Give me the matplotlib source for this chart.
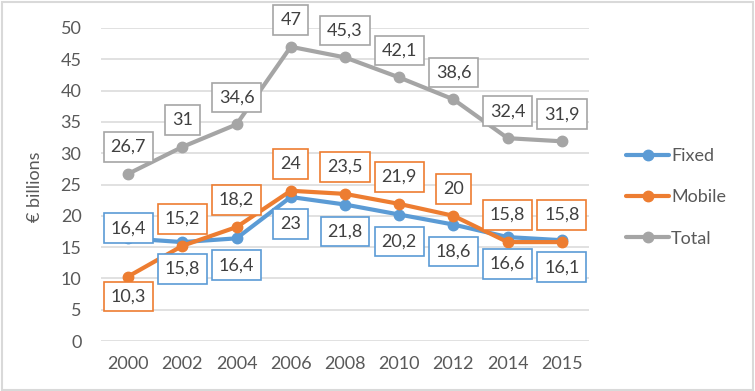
import matplotlib
matplotlib.use("Agg")
import matplotlib.pyplot as plt
from matplotlib.patches import Rectangle

years = ['2000', '2002', '2004', '2006', '2008', '2010', '2012', '2014', '2015']
fixed = [16.4, 15.8, 16.4, 23, 21.8, 20.2, 18.6, 16.6, 16.1]
mobile = [10.3, 15.2, 18.2, 24, 23.5, 21.9, 20, 15.8, 15.8]
total = [26.7, 31, 34.6, 47, 45.3, 42.1, 38.6, 32.4, 31.9]

TEXT = '#595959'
FS = 13
plt.rcParams['font.family'] = ['Lato', 'DejaVu Sans']

fig = plt.figure(figsize=(7.55, 3.91), dpi=100)
ax = fig.add_axes([101 / 755, 1 - 341 / 391, 488 / 755, 313 / 391])

x = list(range(len(years)))
series = [
    ('Fixed', fixed, '#5B9BD5', [-10, 27, 27, 27, 27, 27, 27, 27, 27]),
    ('Mobile', mobile, '#ED7D31', [20, -27, -27, -27, -27, -27, -27, -27, -27]),
    ('Total', total, '#A5A5A5', [-27] * 9),
]

# px offsets -> points (positive = downwards)
for name, vals, col, offs in series:
    ax.plot(x, vals, color=col, lw=3, marker='o', ms=7.5, label=name,
            solid_capstyle='round', zorder=3)
    for xi, v, o in zip(x, vals, offs):
        ax.annotate(f'{v:g}'.replace('.', ','), (xi, v),
                    xytext=(0, -o * 0.72), textcoords='offset points',
                    ha='center', va='center', fontsize=FS, color='#404040',
                    bbox=dict(boxstyle='square,pad=0.38', fc='white',
                              ec=col, lw=1.2),
                    zorder=5, annotation_clip=False)

ax.set_xlim(-0.5, len(years) - 0.5)
ax.set_ylim(0, 50)
ax.set_yticks(range(0, 51, 5))
ax.set_xticks(x)
ax.set_xticklabels(years)
ax.tick_params(length=0, labelsize=FS, labelcolor=TEXT)
ax.tick_params(axis='y', pad=14)
ax.tick_params(axis='x', pad=11)
ax.grid(axis='y', color='#D9D9D9', lw=1.1)
ax.set_axisbelow(True)
for s in ax.spines.values():
    s.set_visible(False)

fig.text(35 / 755, 1 - 187 / 391, '€ billions', rotation=90, ha='center',
         va='center', fontsize=FS, color=TEXT)

leg = fig.legend(loc='upper left', bbox_to_anchor=(626 / 755, 1 - 148 / 391),
                 frameon=False, fontsize=FS, labelcolor=TEXT,
                 handlelength=2.4, handletextpad=0.1, labelspacing=1.4,
                 borderaxespad=0, borderpad=0)

fig.patches.append(Rectangle((0.002, 0.003), 0.995, 0.993, transform=fig.transFigure,
                             fill=False, ec='#D9D9D9', lw=1.5))

fig.savefig('out.png', dpi=100)
